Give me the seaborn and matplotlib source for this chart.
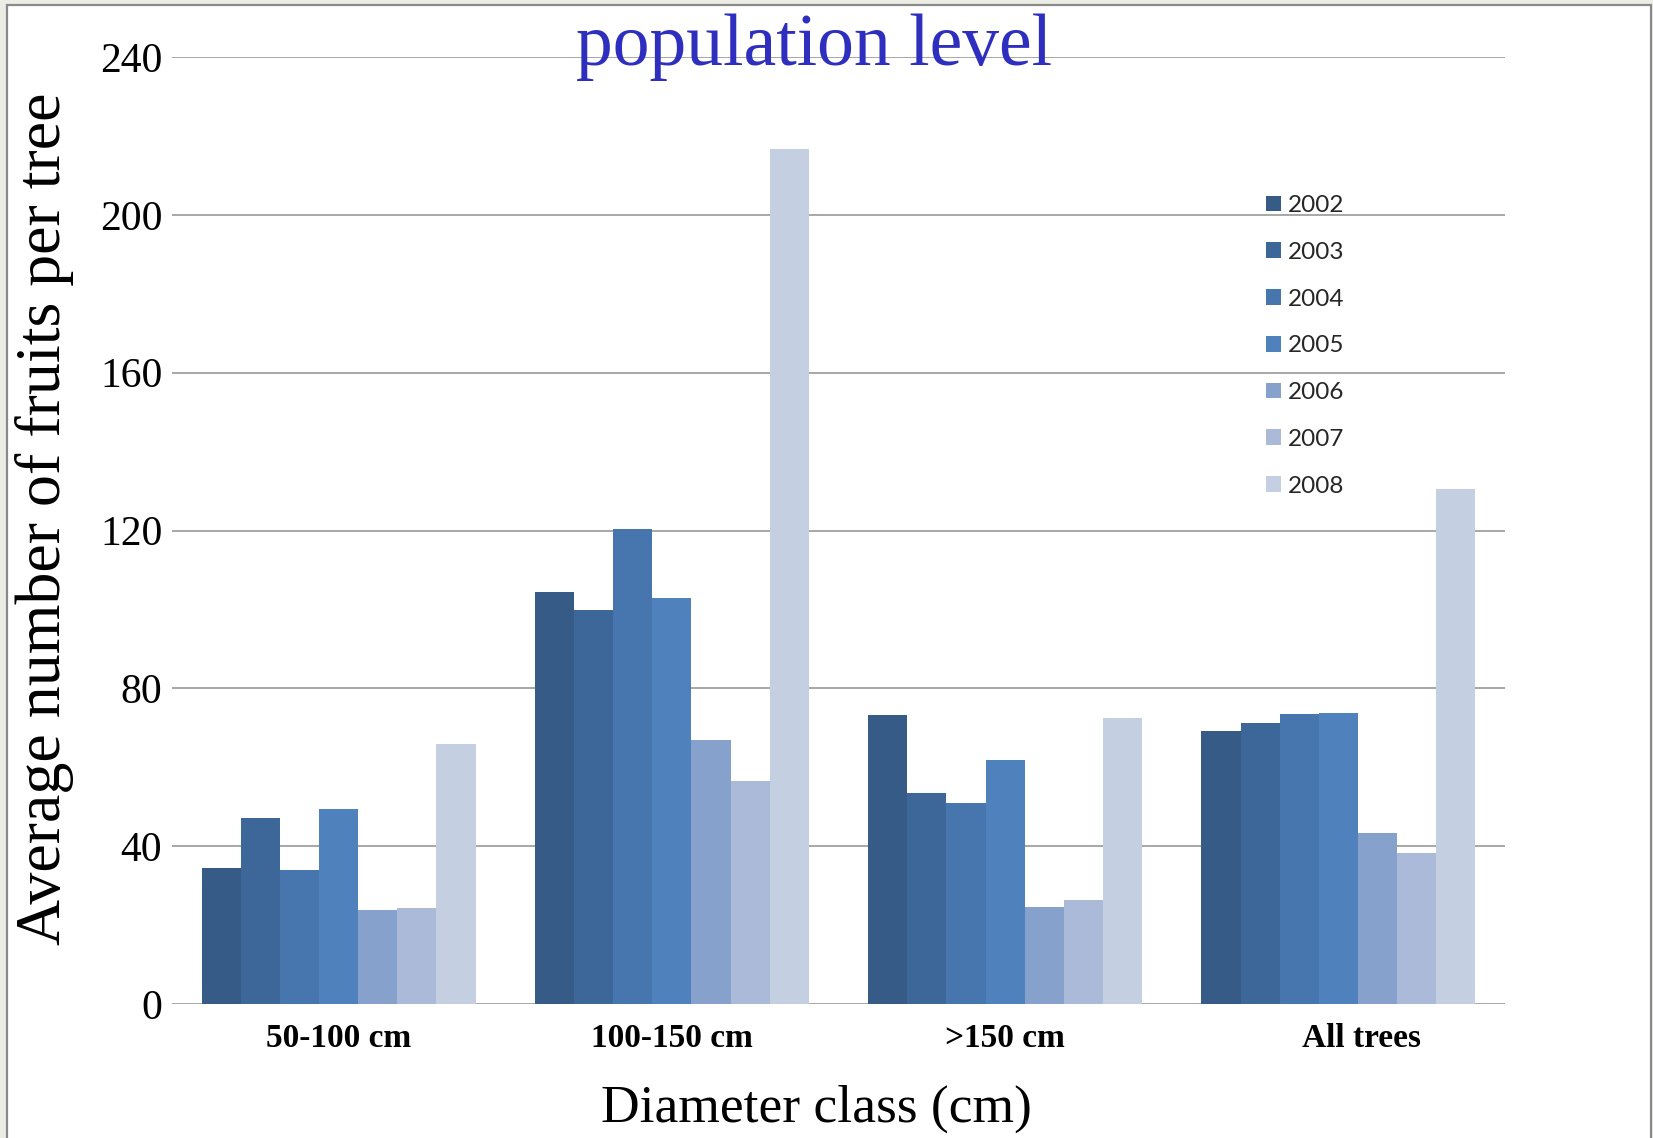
import matplotlib
matplotlib.use("Agg")
import matplotlib.pyplot as plt
import matplotlib.transforms as mtransforms
from matplotlib.patches import Rectangle
import seaborn as sns
import pandas as pd

# Diameter classes and mean fruit counts per tree, one list per year
classes = ["50-100 cm", "100-150 cm", ">150 cm", "All trees"]
years = ["2002", "2003", "2004", "2005", "2006", "2007", "2008"]
y2002 = [34.4, 104.3, 73.2, 69.2]
y2003 = [47.1, 99.8, 53.6, 71.1]
y2004 = [33.9, 120.5, 51.0, 73.4]
y2005 = [49.3, 103.0, 61.8, 73.7]
y2006 = [23.8, 66.9, 24.7, 43.3]
y2007 = [24.4, 56.5, 26.4, 38.3]
y2008 = [65.8, 216.8, 72.4, 130.5]
yticks = [0, 40, 80, 120, 160, 200, 240]

colors = ["#365B87", "#3E6799", "#4775AD", "#4F81BD", "#86A1CB", "#AABAD8", "#C4CFE2"]

series = [y2002, y2003, y2004, y2005, y2006, y2007, y2008]
rows = []
for yr, vals in zip(years, series):
    for c, v in zip(classes, vals):
        rows.append({"Diameter class": c, "Year": yr, "Fruits": v})
df = pd.DataFrame(rows)

sns.set_theme(style="white")
plt.rcParams["font.family"] = ["Liberation Serif", "DejaVu Serif"]

W, H = 1653, 1138
fig = plt.figure(figsize=(W / 100, H / 100), dpi=100, facecolor="#eceee6")

# white slide panel with a grey border
panel = Rectangle((7 / W, -0.02), (1651 - 7) / W, 1.02 - 5 / H,
                  transform=fig.transFigure, facecolor="white",
                  edgecolor="#8a8a8a", linewidth=1.6, zorder=-5)
fig.patches.append(panel)

ax = fig.add_axes([172 / W, 1 - 1004 / H, (1505 - 172) / W, (1004 - 57) / H])
ax.set_facecolor("none")

sns.barplot(data=df, x="Diameter class", y="Fruits", hue="Year",
            order=classes, hue_order=years, palette=colors, saturation=1,
            width=0.822, gap=0, linewidth=0, errorbar=None, ax=ax, zorder=3)

ax.set_ylim(0, 240)
ax.set_yticks(yticks)
ax.set_yticklabels([str(t) for t in yticks], fontsize=30, color="black")
ax.grid(axis="y", color="#8f8f8f", linewidth=1.1, zorder=0)
ax.set_axisbelow(True)
for s in ax.spines.values():
    s.set_visible(False)
ax.tick_params(axis="y", length=0, pad=7)
ax.tick_params(axis="x", length=0, pad=14)
xlabels = ax.get_xticklabels()
for lbl in xlabels:
    lbl.set_fontsize(24)
    lbl.set_fontweight("bold")
    lbl.set_color("black")
# the last class label sits a little right of its group
xlabels[-1].set_transform(xlabels[-1].get_transform() +
                          mtransforms.ScaledTranslation(0.23, 0, fig.dpi_scale_trans))
ax.set_xlabel("")
ax.set_ylabel("")

# legend with small square keys
handles, labels = ax.get_legend_handles_labels()
ax.legend(handles, labels, loc="upper left",
          bbox_to_anchor=(1266 / W, 1 - 195 / H), bbox_transform=fig.transFigure,
          frameon=False, prop={"family": "Lato", "size": 17.5},
          handlelength=0.62, handleheight=0.62, handletextpad=0.3,
          labelspacing=1.06, borderpad=0, borderaxespad=0)

fig.text(814 / W, 1 - 65 / H, "population level", ha="center", va="baseline",
         fontsize=53, color="#2F2FBF")
fig.text(45 / W, 1 - 519 / H, "Average number of fruits per tree",
         rotation=90, ha="center", va="center", fontsize=46, color="black")
fig.text(816 / W, 1 - 1122 / H, "Diameter class (cm)", ha="center",
         va="baseline", fontsize=38.5, color="black")

fig.savefig("out.png", dpi=100, facecolor=fig.get_facecolor())
